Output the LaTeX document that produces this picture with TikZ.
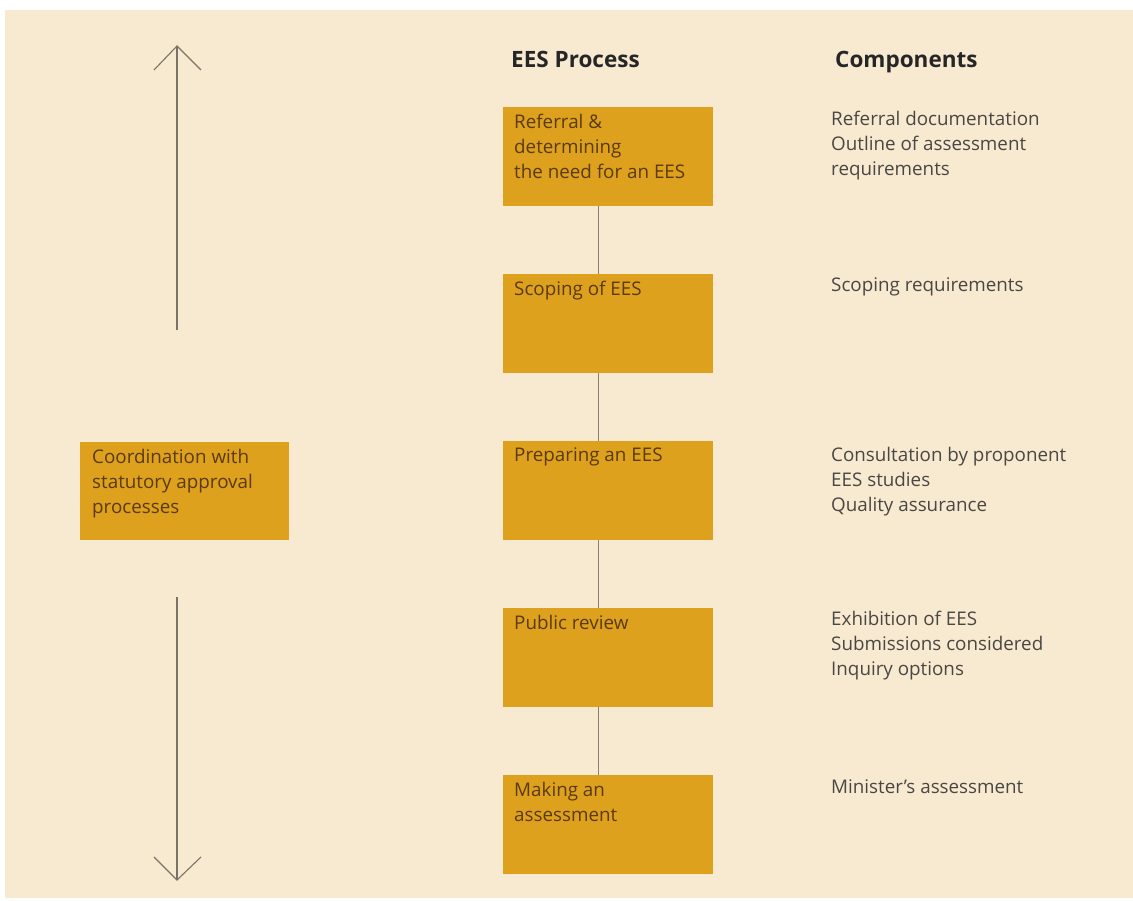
\documentclass[tikz,border=0pt]{standalone}
\usepackage{fontspec}
\setmainfont{Open Sans}
\definecolor{bg}{HTML}{F8EAD1}
\definecolor{boxc}{HTML}{DDA11E}
\definecolor{boxtxt}{HTML}{5A3A0E}
\definecolor{comptxt}{HTML}{4A4742}
\definecolor{linec}{HTML}{86827A}
\definecolor{arrc}{HTML}{7A7266}
\begin{document}
\begin{tikzpicture}[x=1pt,y=-1pt,
  procbox/.style={fill=boxc,draw=none,minimum width=210pt,minimum height=99pt,anchor=north west,inner sep=0pt},
  boxlabel/.style={anchor=north west,align=left,text=boxtxt,font=\fontsize{18.8}{25}\selectfont,inner sep=0pt},
  comp/.style={anchor=north west,align=left,text=comptxt,font=\fontsize{18.8}{25}\selectfont,inner sep=0pt},
  head/.style={anchor=base west,text=black!85,font=\fontsize{22.5}{26}\selectfont\bfseries,inner sep=0pt},
  conn/.style={draw=linec,line width=1.3pt},
  bigarrow/.style={draw=arrc,line width=1.1pt}]
\useasboundingbox (0,0) rectangle (1133,901);
\fill[white] (0,0) rectangle (1133,901);
\fill[bg] (5,10) rectangle (1133,898);
% headers
\node[head] (h1) at (511,68) {EES Process};
\node[head] (h2) at (835,68) {Components};
% process boxes
\node[procbox] (b1) at (503,107) {};
\node[procbox] (b2) at (503,274) {};
\node[procbox] (b3) at (503,441) {};
\node[procbox] (b4) at (503,608) {};
\node[procbox] (b5) at (503,775) {};
\node[procbox,minimum width=209pt,minimum height=98pt] (lb) at (80,442) {};
% box labels
\node[boxlabel] (t1) at (514,114) {Referral \&\\determining\\the need for an EES};
\node[boxlabel] (t2) at (514,281) {Scoping of EES};
\node[boxlabel] (t3) at (514,448) {Preparing an EES};
\node[boxlabel] (t4) at (514,615) {Public review};
\node[boxlabel] (t5) at (514,782) {Making an\\assessment};
\node[boxlabel] (tl) at (92,449) {Coordination with\\statutory approval\\processes};
% components
\node[comp] (c1) at (831,111) {Referral documentation\\Outline of assessment\\requirements};
\node[comp] (c2) at (831,278) {Scoping requirements};
\node[comp] (c3) at (831,447) {Consultation by proponent\\EES studies\\Quality assurance};
\node[comp] (c4) at (831,611) {Exhibition of EES\\Submissions considered\\Inquiry options};
\node[comp] (c5) at (831,779) {Minister’s assessment};
% connectors
\draw[conn] ([xshift=-10pt]b1.south) -- ([xshift=-10pt]b2.north);
\draw[conn] ([xshift=-10pt]b2.south) -- ([xshift=-10pt]b3.north);
\draw[conn] ([xshift=-10pt]b3.south) -- ([xshift=-10pt]b4.north);
\draw[conn] ([xshift=-10pt]b4.south) -- ([xshift=-10pt]b5.north);
% big arrows
\coordinate (ua) at (177,330);
\coordinate (ut) at (177,46);
\coordinate (ul) at (154,70);
\coordinate (ur) at (201,70);
\coordinate (da) at (177,597);
\coordinate (dt) at (177,880);
\coordinate (dl) at (154,857);
\coordinate (dr) at (201,857);
\draw[bigarrow] (ua) -- (ut);
\draw[bigarrow,line join=miter] (ul) -- (ut) -- (ur);
\draw[bigarrow] (da) -- (dt);
\draw[bigarrow,line join=miter] (dl) -- (dt) -- (dr);
\end{tikzpicture}
\end{document}
